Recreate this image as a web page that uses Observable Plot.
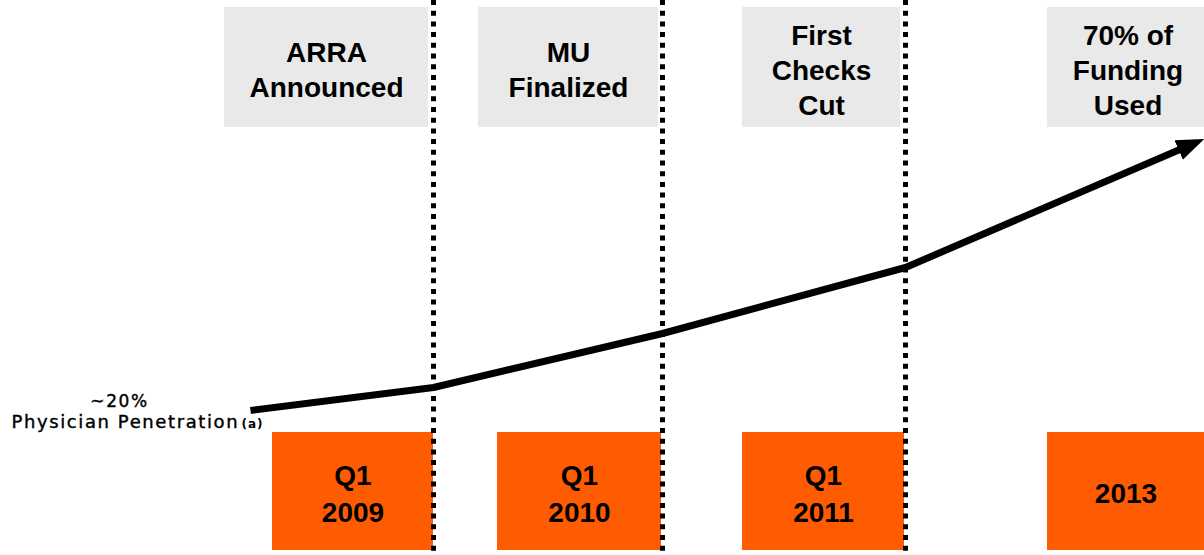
<!DOCTYPE html>
<html><head><meta charset="utf-8">
<script src="https://cdn.jsdelivr.net/npm/d3@7"></script>
<script src="https://cdn.jsdelivr.net/npm/@observablehq/plot@0.6"></script>
<style>html,body{margin:0;padding:0;background:#fff;overflow:hidden}</style>
</head><body><div id="chart"></div>
<script>
// Milestones (top gray boxes) and their timeline spans
const milestones = ["ARRA\nAnnounced", "MU\nFinalized", "First\nChecks\nCut", "70% of\nFunding\nUsed"];
const milestoneStart = [224, 478, 742, 1047];
const milestoneEnd = [428, 658, 900, 1210];
// Periods (bottom orange boxes)
const periods = ["Q1\n2009", "Q1\n2010", "Q1\n2011", "2013"];
const periodStart = [272, 497, 742, 1047];
const periodEnd = [433, 661, 904, 1210];
// Dotted dividers on the timeline
const dividers = [433, 662, 905];
// Physician penetration curve (timeline position, level above baseline)
const curveX = [250, 433, 662, 905, 1191];
const curveY = [145, 168, 222, 288, 411];
// Start annotation
const startValue = ["~20%"];
const startLabel = ["Physician Penetration"];
const footnote = ["(a)"];

const top1 = 428, top2 = 548, bot1 = 5, bot2 = 123;
const curve = curveX.map((x, i) => ({x, y: curveY[i]}));

const chart = Plot.plot({
  width: 1204,
  height: 555,
  margin: 0,
  x: {domain: [0, 1204], axis: null},
  y: {domain: [0, 555], axis: null},
  style: {background: "white"},
  marks: [
    Plot.rect(milestones, {x1: (d, i) => milestoneStart[i], x2: (d, i) => milestoneEnd[i], y1: top1, y2: top2, fill: "#E9E9E9"}),
    Plot.rect(periods, {x1: (d, i) => periodStart[i], x2: (d, i) => periodEnd[i], y1: bot1, y2: bot2, fill: "#FF5B00"}),
    Plot.ruleX(dividers, {x: d => d, stroke: "black", strokeWidth: 5, strokeDasharray: "5,5.7"}),
    Plot.line(curve, {x: "x", y: "y", stroke: "black", strokeWidth: 7, strokeLinecap: "butt", strokeLinejoin: "miter", markerEnd: "arrow"}),
    Plot.text(milestones, {x: (d, i) => (milestoneStart[i] + Math.min(milestoneEnd[i], 1204)) / 2 + (i === 3 ? 2 : 0), y: 487, text: d => d, fontFamily: "Liberation Sans, Arial, sans-serif", fontWeight: "bold", fontSize: 28, lineHeight: 1.25, fill: "black"}),
    Plot.text(periods, {x: (d, i) => (periodStart[i] + Math.min(periodEnd[i], 1204)) / 2, y: 64, text: d => d, fontFamily: "Liberation Sans, Arial, sans-serif", fontWeight: "bold", fontSize: 28, lineHeight: 1.32, fill: "black"}),
    Plot.text(startValue, {x: 119, y: 154, text: d => d, fontFamily: "DejaVu Sans", fontSize: 17, fill: "black"}),
    Plot.text(startLabel, {x: 11, y: 133.6, text: d => d, textAnchor: "start", fontFamily: "DejaVu Sans", fontSize: 18, fill: "black"}),
    Plot.text(footnote, {x: 241, y: 131, text: d => d, textAnchor: "start", fontFamily: "DejaVu Sans", fontSize: 12, fontWeight: "bold", fill: "black"})
  ]
});

const svg = d3.select(chart);
svg.selectAll('g[font-family="DejaVu Sans"]').each(function () {
  const g = d3.select(this);
  const small = g.attr("font-size") === "12";
  g.attr("letter-spacing", small ? "1px" : "1.6px");
  if (!small) g.attr("stroke", "black").attr("stroke-width", 0.4);
});
svg.selectAll("marker")
  .attr("markerWidth", 4)
  .attr("markerHeight", 4)
  .attr("fill", "black")
  .attr("stroke", "none")
  .selectAll("path")
  .attr("d", "M-5,-3.8L5,0L-5,3.8Z")
  .attr("fill", "black")
  .attr("stroke", "none");

document.getElementById("chart").appendChild(chart);
</script>
</body></html>
